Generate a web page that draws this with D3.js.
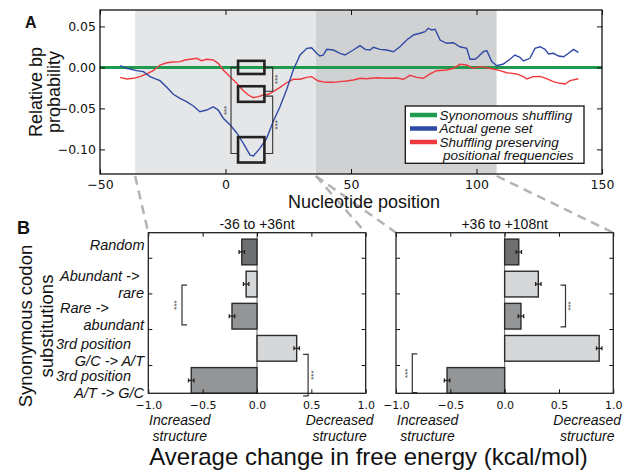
<!DOCTYPE html>
<html>
<head>
<meta charset="utf-8">
<script src="https://cdn.jsdelivr.net/npm/d3@7"></script>
<style>
body { margin: 0; background: #fff; }
svg { display: block; }
text { font-family: "Liberation Sans", Arial, sans-serif; fill: #111; }
.tick text { font-family: "DejaVu Sans", sans-serif; }
</style>
</head>
<body>
<svg id="chart" width="627" height="473"></svg>
<script>
// ---- panel A data ----
var bluePos = [-42, -39.4, -35.4, -32.7, -30.1, -27.4, -26.1, -23.4, -20.8, -18.1, -15.5, -12.8, -10.2, -7.5, -4.9, -2.9, -0.9, 1.8, 4.5, 7.1, 9.8, 11.1, 13.7, 16.4, 19, 21.7, 24.3, 27, 29.7, 32.4, 34.3, 36.3,
    37.6, 39, 40.3, 43, 45.6, 47.6, 50.9, 53.6, 55.6, 57.6, 58.9, 61.6, 64.2, 66.9, 69.5, 72.2, 74.9, 77.5, 79.5, 80.8, 82.2, 83.5, 85.5, 88.1, 90.8, 93.4, 96.1, 97.4, 99.4, 100.7, 102.7, 104.1, 106.1, 108.1,
    110.7, 113.3, 115.3, 117.3, 118.7, 121.3, 123.3, 125.3, 127.3, 128.7, 130.7, 132.7, 134.7, 136.7, 138.6, 140.6];
var blueVal = [0.0021, -0.0011, -0.004, -0.0052, -0.0113, -0.0145, -0.0162, -0.0243, -0.0328, -0.0377, -0.0418, -0.0471, -0.054, -0.052, -0.048, -0.052, -0.062, -0.070, -0.080, -0.0926, -0.107, -0.108, -0.0987, -0.0865, -0.066, -0.048, -0.0276, -0.0032, 0.0151, 0.0233, 0.024, 0.0172,
    0.0139, 0.0151, 0.022, 0.0212, 0.0172, 0.0151, 0.0212, 0.0265, 0.022, 0.0212, 0.0245, 0.022, 0.0212, 0.0191, 0.0252, 0.0334, 0.0395, 0.0416, 0.0435, 0.0477, 0.0456, 0.0465, 0.0334, 0.0294, 0.0301, 0.0252, 0.0233, 0.0099, 0.0099, 0.013, 0.0191, 0.0204, 0.007, 0.0021,
    0.0041, 0.0099, 0.0151, 0.0123, 0.0078, 0.0111, 0.0233, 0.0252, 0.022, 0.0163, 0.0172, 0.0139, 0.013, 0.0172, 0.022, 0.0184];

var redPos = [-42, -39.4, -36.7, -34.1, -31.4, -28.8, -26.1, -23.4, -20.8, -18.1, -16.1, -13.5, -11.5, -9.5, -7.5, -4.9, -2.9, -0.9, 1.8, 4.5, 7.1, 9.1, 11.1, 13.1, 15.1, 17.1, 19, 21.7, 24.3, 27, 29.7, 32.4, 34.3, 37,
    40.3, 43, 45.6, 48.3, 50.9, 53.6, 56.2, 60.2, 64.2, 68.2, 70.9, 73.5, 76.2, 78.8, 81.5, 84.1, 88.1, 90.8, 93.4, 96.1, 98.7, 101.4, 104.1, 106.7, 109.4, 112, 116, 118.7, 120, 122.6, 125.3, 127.9, 130.6, 133.3, 135.3, 137.3, 140.6];
var redVal = [-0.0121, -0.0141, -0.0133, -0.0113, -0.008, -0.004, 0.0029, 0.0057, 0.0066, 0.007, 0.009, 0.0102, 0.0111, 0.0082, 0.0099, 0.009, 0.005, -0.0032, -0.0113, -0.0194, -0.0284, -0.0337, -0.0369, -0.0357, -0.0337, -0.0328, -0.0296, -0.0243, -0.0187, -0.0145, -0.0145, -0.0121, -0.0113, -0.0166,
    -0.0182, -0.0182, -0.0174, -0.0166, -0.0154, -0.0133, -0.0138, -0.0126, -0.0133, -0.0129, -0.0145, -0.0097, -0.0121, -0.0133, -0.008, -0.004, -0.0032, -0.0011, 0.0038, 0.0029, -0.0011, 0.0009, -0.0004, -0.002, -0.004, -0.0065, -0.008, -0.0113, -0.0141, -0.0113, -0.0109, -0.0138, -0.0174, -0.0194, -0.0202, -0.0162, -0.0138];

var windows = [[-36, 36], [36, 108]];
var legendLabels = ["Synonomous shuffling", "Actual gene set", "Shuffling preserving", "positional frequencies"];
// highlighted boxes: [x0, x1, yTop, yBottom]
var boxes = [[5, 15.5, 0.008, -0.008], [5, 15.5, -0.023, -0.042], [5, 15.5, -0.085, -0.116]];
// significance brackets: [x, yFrom, yTo]
var bracketsA = [[2.2, 0, -0.105], [18.8, 0, -0.029], [18.8, -0.035, -0.105]];

// ---- panel B data ----
var categories = [["Random"], ["Abundant ->", "rare"], ["Rare ->", "abundant"], ["3rd position", "G/C -> A/T"], ["3rd position", "A/T -> G/C"]];
var earlyValues = [-0.14, -0.10, -0.23, 0.365, -0.605];
var lateValues = [0.13, 0.31, 0.15, 0.87, -0.53];
var errValues = [0.025, 0.025, 0.025, 0.025, 0.025];
var xTicksB = [-1, -0.5, 0, 0.5, 1];
var yTicksB = [0.88, 2.0, 3.11, 4.22];
var earlySig = [[-0.69, 3.37, 2.13, 1], [0.47, 1.21, -0.08, -1]];
var lateSig = [[0.56, 3.37, 2.07, -1], [-0.85, 1.23, 0.02, 1]];
var barFill = ["#6e6f71", "#d6d7d9", "#949597", "#d6d7d9", "#949597"];

var svg = d3.select("#chart");

// layout
var A = {left: 100, right: 602, top: 10, bottom: 174};
var B1 = {left: 148.3, right: 365.7, top: 232.7, bottom: 393.3};
var B2 = {left: 396, right: 613.3, top: 232.7, bottom: 393.3};

var xA = d3.scaleLinear().domain([-50, 150]).range([A.left, A.right]);
var yA = d3.scaleLinear().domain([-0.13, 0.07]).range([A.bottom, A.top]);

// dashed zoom lines (under everything)
var dashLines = [[windows[0][0], B1.left], [windows[0][1], B1.right], [windows[1][0], B2.left], [windows[1][1], B2.right]];
svg.selectAll(".zoomline").data(dashLines).enter().append("line")
    .attr("x1", d => xA(d[0])).attr("y1", A.bottom + 2)
    .attr("x2", d => d[1]).attr("y2", B1.top)
    .attr("stroke", "#b3b3b3").attr("stroke-width", 2.5).attr("stroke-dasharray", "9,6");

// ---- panel A ----
var gA = svg.append("g");
gA.append("rect").attr("x", A.left).attr("y", A.top).attr("width", A.right - A.left).attr("height", A.bottom - A.top).attr("fill", "#fff");
gA.selectAll(".win").data(windows).enter().append("rect")
    .attr("x", d => xA(d[0])).attr("width", d => xA(d[1]) - xA(d[0]))
    .attr("y", A.top).attr("height", A.bottom - A.top)
    .attr("fill", (d, i) => i == 0 ? "#e5e6e8" : "#d0d1d3");

gA.append("line").attr("x1", A.left).attr("x2", A.right).attr("y1", yA(0)).attr("y2", yA(0))
    .attr("stroke", "#1f9a4f").attr("stroke-width", 3);

var line = d3.line().x(d => xA(d[0])).y(d => yA(d[1]));
gA.append("path").datum(redPos.map((p, i) => [p, redVal[i]]))
    .attr("d", line).attr("fill", "none").attr("stroke", "#ee3a3e").attr("stroke-width", 1.4);
gA.append("path").datum(bluePos.map((p, i) => [p, blueVal[i]]))
    .attr("d", line).attr("fill", "none").attr("stroke", "#2f4aa6").attr("stroke-width", 1.4);

gA.selectAll(".box").data(boxes).enter().append("rect")
    .attr("x", d => xA(d[0])).attr("width", d => xA(d[1]) - xA(d[0]))
    .attr("y", d => yA(d[2])).attr("height", d => yA(d[3]) - yA(d[2]))
    .attr("fill", "none").attr("stroke", "#222").attr("stroke-width", 2.6);

bracketsA.forEach(function(b, i) {
    var x = xA(b[0]);
    var dir = i == 0 ? 1 : -1;
    var tip = i == 0 ? 7 : 8;
    gA.append("path")
        .attr("d", "M" + (x + dir * tip) + "," + yA(b[1]) + "H" + x + "V" + yA(b[2]) + "H" + (x + dir * tip))
        .attr("fill", "none").attr("stroke", "#333").attr("stroke-width", 1.1);
    var tx = x - dir * 4.5, ty = (yA(b[1]) + yA(b[2])) / 2;
    gA.append("text").attr("transform", "translate(" + tx + "," + ty + ") rotate(-90)")
        .attr("text-anchor", "middle").attr("dominant-baseline", "central")
        .style("font-size", "8px").style("fill", "#444").text("***");
});

gA.append("g").attr("class", "axA").attr("transform", "translate(0," + A.bottom + ")")
    .call(d3.axisBottom(xA).tickValues([-50, 0, 50, 100, 150]).tickSizeInner(-5).tickSizeOuter(0).tickPadding(6).tickFormat(d3.format("d")));
gA.append("g").attr("transform", "translate(0," + A.top + ")")
    .call(d3.axisTop(xA).tickValues([-50, 0, 50, 100, 150]).tickSizeInner(-5).tickSizeOuter(0).tickFormat(""));
gA.append("g").attr("class", "axA").attr("transform", "translate(" + A.left + ",0)")
    .call(d3.axisLeft(yA).tickValues([0.05, 0, -0.05, -0.1]).tickSizeInner(-5).tickSizeOuter(0).tickPadding(4).tickFormat(d3.format(".2f")));
gA.append("g").attr("transform", "translate(" + A.right + ",0)")
    .call(d3.axisRight(yA).tickValues([0.05, 0, -0.05, -0.1]).tickSizeInner(-5).tickSizeOuter(0).tickFormat(""));

gA.append("rect").attr("x", A.left).attr("y", A.top).attr("width", A.right - A.left).attr("height", A.bottom - A.top)
    .attr("fill", "none").attr("stroke", "#111").attr("stroke-width", 1.3);

// legend
var lg = gA.append("g");
lg.append("rect").attr("x", 405.3).attr("y", 106).attr("width", 178.7).attr("height", 57.3)
    .attr("fill", "#fff").attr("stroke", "#111").attr("stroke-width", 1.3);
var legendColors = ["#1f9a4f", "#2f4aa6", "#ee3a3e"];
legendColors.forEach(function(c, i) {
    var y = 115 + i * 13.5;
    lg.append("line").attr("x1", 410).attr("x2", 437).attr("y1", y).attr("y2", y).attr("stroke", c).attr("stroke-width", 4.5);
});
legendLabels.forEach(function(t, i) {
    lg.append("text").attr("x", i == 3 ? 443 : 439.5).attr("y", 119.5 + i * 13.5)
        .style("font-size", "13.5px").style("font-style", "italic").text(t);
});

gA.append("text").attr("x", 25).attr("y", 28).style("font-size", "16px").style("font-weight", "bold").text("A");
gA.append("text").attr("transform", "translate(41.5,92) rotate(-90)").attr("text-anchor", "middle").style("font-size", "18px").text("Relative bp");
gA.append("text").attr("transform", "translate(59.5,92) rotate(-90)").attr("text-anchor", "middle").style("font-size", "18px").text("probability");
gA.append("text").attr("x", 364).attr("y", 208).attr("text-anchor", "middle").style("font-size", "18px").text("Nucleotide position");

// ---- panel B ----
var yB = d3.scaleLinear().domain([0, 5]).range([B1.bottom, B1.top]);

function drawBars(box, title, values, sig) {
    var g = svg.append("g");
    var x = d3.scaleLinear().domain([-1, 1]).range([box.left, box.right]);
    g.append("rect").attr("x", box.left).attr("y", box.top).attr("width", box.right - box.left).attr("height", box.bottom - box.top).attr("fill", "#fff");
    g.append("line").attr("x1", x(0)).attr("x2", x(0)).attr("y1", box.top).attr("y2", box.bottom).attr("stroke", "#666").attr("stroke-width", 1);

    g.selectAll(".bar").data(values).enter().append("rect")
        .attr("x", d => x(Math.min(0, d)))
        .attr("width", d => Math.abs(x(d) - x(0)))
        .attr("y", (d, i) => yB(4 - i + 0.8))
        .attr("height", yB(0) - yB(0.8))
        .attr("fill", (d, i) => barFill[i])
        .attr("stroke", "#2b2b2b").attr("stroke-width", 1.4);

    values.forEach(function(v, i) {
        var cy = yB(4 - i + 0.4);
        var e = errValues[i];
        g.append("path").attr("d", "M" + x(v - e) + "," + cy + "H" + x(v + e) +
            "M" + x(v - e) + "," + (cy - 2) + "V" + (cy + 2) + "M" + x(v + e) + "," + (cy - 2) + "V" + (cy + 2))
            .attr("stroke", "#222").attr("stroke-width", 1.3).attr("fill", "none");
    });

    sig.forEach(function(s) {
        var bx = x(s[0]), dir = s[3];
        g.append("path")
            .attr("d", "M" + (bx + dir * 5) + "," + yB(s[1]) + "H" + bx + "V" + yB(s[2]) + "H" + (bx + dir * 5))
            .attr("fill", "none").attr("stroke", "#333").attr("stroke-width", 1.2);
        g.append("text").attr("transform", "translate(" + (bx - dir * 5) + "," + ((yB(s[1]) + yB(s[2])) / 2) + ") rotate(-90)")
            .attr("text-anchor", "middle").attr("dominant-baseline", "central")
            .style("font-size", "8px").style("fill", "#444").text("***");
    });

    g.append("g").attr("class", "axB").attr("transform", "translate(0," + box.bottom + ")")
        .call(d3.axisBottom(x).tickValues(xTicksB).tickSizeInner(-4).tickSizeOuter(0).tickPadding(8).tickFormat(d3.format(".1f")));
    g.append("g").attr("transform", "translate(0," + box.top + ")")
        .call(d3.axisTop(x).tickValues(xTicksB).tickSizeInner(-4).tickSizeOuter(0).tickFormat(""));
    g.append("g").attr("transform", "translate(" + box.left + ",0)")
        .call(d3.axisLeft(yB).tickValues(yTicksB).tickSizeInner(-4).tickSizeOuter(0).tickFormat(""));
    g.append("g").attr("transform", "translate(" + box.right + ",0)")
        .call(d3.axisRight(yB).tickValues(yTicksB).tickSizeInner(-4).tickSizeOuter(0).tickFormat(""));
    g.append("rect").attr("x", box.left).attr("y", box.top).attr("width", box.right - box.left).attr("height", box.bottom - box.top)
        .attr("fill", "none").attr("stroke", "#222").attr("stroke-width", 1.3);

    g.append("text").attr("x", (box.left + box.right) / 2).attr("y", 229).attr("text-anchor", "middle").style("font-size", "14px").text(title);
    var ix = x(-0.71), dx = x(0.76);
    [["Increased", 425], ["structure", 441]].forEach(function(t) {
        g.append("text").attr("x", ix).attr("y", t[1]).attr("text-anchor", "middle").style("font-size", "14px").style("font-style", "italic").text(t[0]);
    });
    [["Decreased", 425], ["structure", 441]].forEach(function(t) {
        g.append("text").attr("x", dx).attr("y", t[1]).attr("text-anchor", "middle").style("font-size", "14px").style("font-style", "italic").text(t[0]);
    });
    return x;
}

drawBars(B1, "-36 to +36nt", earlyValues, earlySig);
drawBars(B2, "+36 to +108nt", lateValues, lateSig);

// category labels
categories.forEach(function(lines, i) {
    var cy = yB(4 - i + 0.4);
    if (lines.length == 1) {
        svg.append("text").attr("x", 144.5).attr("y", cy - 2).attr("text-anchor", "end")
            .style("font-size", "14.5px").style("font-style", "italic").text(lines[0]);
    } else {
        var off = i >= 3 ? 4 : 0;
        svg.append("text").attr("x", i >= 3 ? 56 : 60).attr("y", cy - 3.5 + off)
            .style("font-size", "14.5px").style("font-style", "italic").text(lines[0]);
        svg.append("text").attr("x", 144).attr("y", cy + 13.5 + off).attr("text-anchor", "end")
            .style("font-size", "14.5px").style("font-style", "italic").text(lines[1]);
    }
});

svg.selectAll(".tick line").attr("stroke", "#111");
svg.selectAll(".axA .tick text").style("font-size", "12.5px").style("fill", "#111");
svg.selectAll(".axB .tick text").style("font-size", "11px").style("fill", "#111");
svg.selectAll(".domain").remove();

svg.append("text").attr("x", 17).attr("y", 234).style("font-size", "18px").style("font-weight", "bold").text("B");
svg.append("text").attr("transform", "translate(31.5,326) rotate(-90)").attr("text-anchor", "middle").style("font-size", "18.5px").text("Synonymous codon");
svg.append("text").attr("transform", "translate(53,326) rotate(-90)").attr("text-anchor", "middle").style("font-size", "18.5px").text("substitutions");
svg.append("text").attr("x", 368.5).attr("y", 465).attr("text-anchor", "middle").style("font-size", "24px").text("Average change in free energy (kcal/mol)");
</script>
</body>
</html>
